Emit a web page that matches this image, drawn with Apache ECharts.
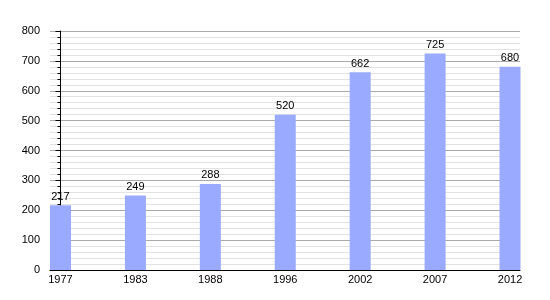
<!DOCTYPE html>
<html><head><meta charset="utf-8">
<script src="https://cdn.jsdelivr.net/npm/echarts@6/dist/echarts.min.js"></script>
<style>html,body{margin:0;padding:0;background:#fff}#c{width:550px;height:300px}</style>
</head><body><div id="c"></div>
<script>
const categories = ['1977','1983','1988','1996','2002','2007','2012'];
const values = [217, 249, 288, 520, 662, 725, 680];
const yTicks = [0, 100, 200, 300, 400, 500, 600, 700, 800];

const chart = echarts.init(document.getElementById('c'));
const font = 'Liberation Sans, Arial, sans-serif';
chart.setOption({
  animation: false,
  grid: {left: 50, right: 30, top: 31, bottom: 30},
  xAxis: {
    type: 'value', min: -0.14, max: 6.1333,
    axisLine: {show: true, lineStyle: {color: '#000', width: 1}},
    axisTick: {show: false},
    splitLine: {show: false},
    axisLabel: {
      customValues: categories.map((c, i) => i),
      formatter: v => categories[Math.round(v)],
      color: '#000', fontSize: 11, fontFamily: font, margin: 4
    }
  },
  yAxis: {
    type: 'value', min: yTicks[0], max: yTicks[yTicks.length - 1], interval: 100,
    axisLine: {show: true, lineStyle: {color: '#000', width: 1}},
    axisTick: {show: true, length: 5, lineStyle: {color: '#000'}},
    minorTick: {show: true, splitNumber: 5, length: 3, lineStyle: {color: '#000'}},
    splitLine: {show: true, lineStyle: {color: '#aaaaaa'}},
    minorSplitLine: {show: true, lineStyle: {color: '#e2e2e2'}},
    axisLabel: {color: '#000', fontSize: 11, fontFamily: font, margin: 10}
  },
  series: [{
    type: 'bar',
    barWidth: 21,
    data: values.map((v, i) => [i, v]),
    itemStyle: {color: '#99aaff'},
    label: {show: true, position: 'top', distance: 3, color: '#000', fontSize: 11, fontFamily: font}
  }]
});
</script></body></html>
